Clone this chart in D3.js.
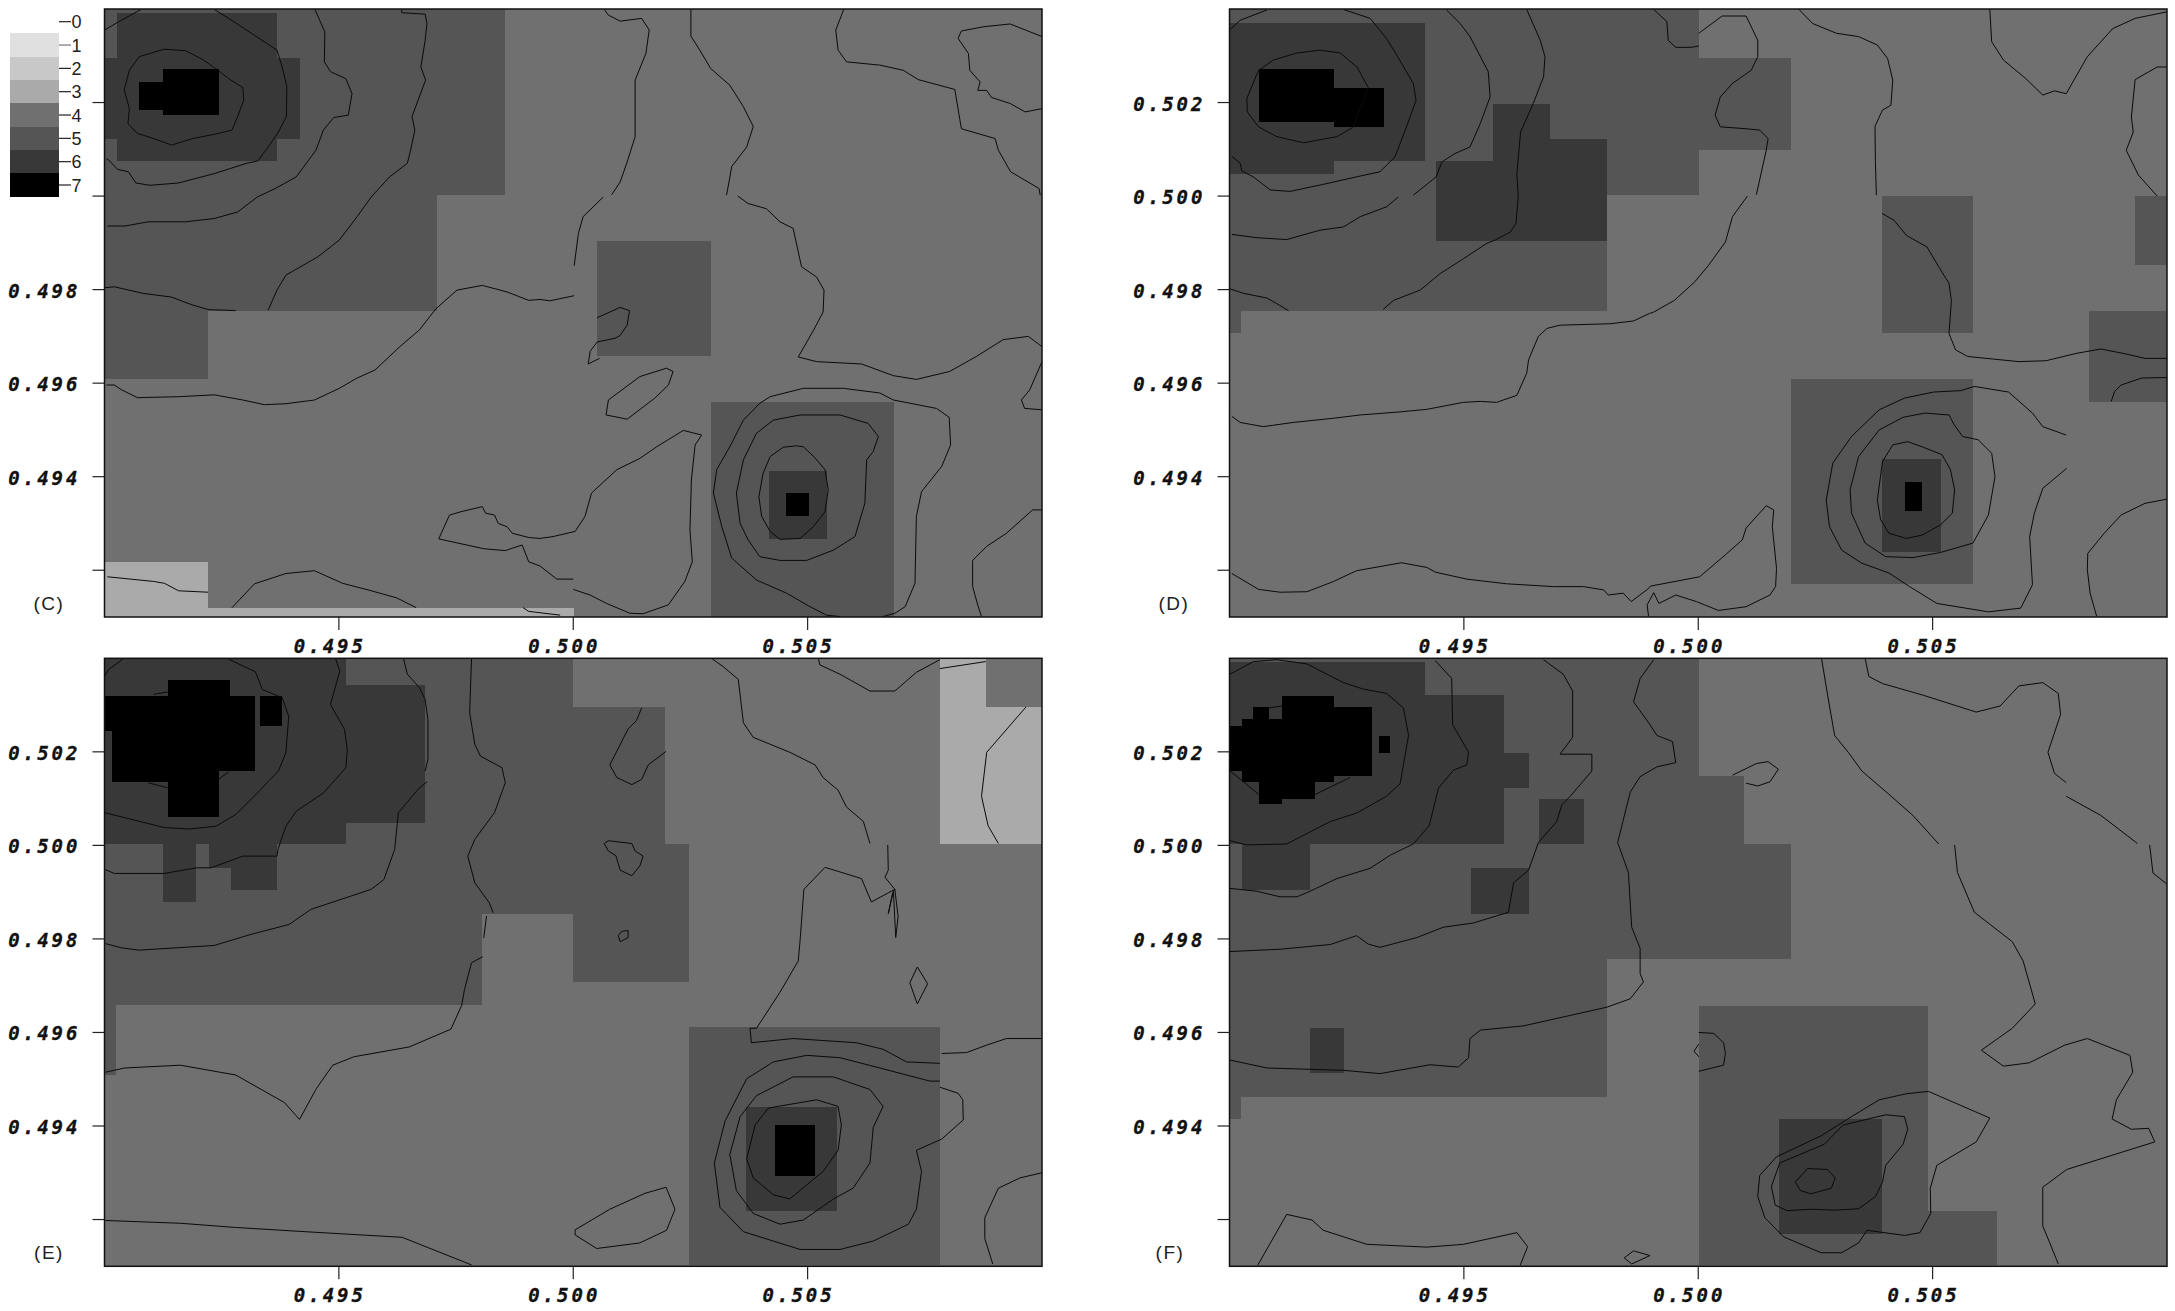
<!DOCTYPE html>
<html><head><meta charset="utf-8"><script src="https://cdn.jsdelivr.net/npm/d3@7"></script>
<style>html,body{margin:0;background:#fff}svg{display:block}</style></head><body><div id="c"></div>
<script>
// All spatial values are in units of 1e-5 of the plotted coordinate.
const xTickValues=[0.495,0.5,0.505];
const yTickValues=[0.502,0.5,0.498,0.496,0.494,0.492];
const legendLevels=[0,1,2,3,4,5,6,7];
const levelGray={1:"#e0e0e0",2:"#c8c8c8",3:"#aaaaaa",4:"#707070",5:"#555555",6:"#383838",7:"#000000"};
// cells: [x0,x1,y0,y1,level]
const cellsC=[[49000,51000,49100,50400,4],[49000,49855,50002,50400,5],[49000,49710,49755,50002,5],[49000,49221,49609,49755,5],[50051,50294,49657,49904,5],[50294,50685,49100,49559,5],
[49026,49367,50075,50392,6],[49000,49417,50122,50296,6],[50418,50541,49267,49413,6],[49124,49244,50173,50271,7],[49073,49124,50185,50244,7],[50454,50502,49316,49365,7],[49000,49221,49100,49217,3],[49221,50001,49100,49120,3]];
const cellsD=[[49000,51000,49100,50400,4],[49000,49805,49754,50400,5],[49805,50001,50002,50400,5],[50001,50197,50098,50296,5],[49000,49025,49707,49754,5],[50392,50587,49707,50000,5],[50932,51000,49852,50000,5],[50834,51000,49559,49754,5],[50197,50587,49170,49609,5],
[49000,49417,50075,50369,6],[49000,49222,50048,50369,6],[49563,49684,50075,50197,6],[49441,49805,49904,50075,6],[49684,49805,50075,50122,6],[50392,50517,49240,49437,6],[49062,49222,50159,50271,7],[49222,49330,50147,50232,7],[50442,50477,49327,49389,7]];
const cellsE=[[49000,51000,49100,50400,4],[49000,50000,49854,50400,5],[49000,49805,49658,49854,5],[50000,50196,50004,50296,5],[50000,50247,49708,50004,5],[49000,49025,49509,49660,5],[50247,50782,49102,49611,5],
[49000,49516,50002,50400,6],[49516,49684,50048,50342,6],[49124,49195,49879,50002,6],[49223,49368,49952,50002,6],[49270,49368,49904,49952,6],[50368,50563,49219,49440,6],
[49135,49268,50319,50353,7],[49000,49320,50244,50319,7],[49015,49320,50159,50244,7],[49015,49135,50135,50159,7],[49135,49244,50060,50159,7],[49331,49379,50256,50319,7],[50430,50516,49294,49402,7],[50782,50880,50004,50400,3],[50880,51000,50004,50296,3]];
const cellsF=[[49000,51000,49100,50400,4],[49000,49805,49462,50400,5],[49805,50001,49756,50400,5],[50001,50098,50003,50148,5],[50001,50197,49756,50003,5],[49000,49025,49415,49462,5],[50001,50490,49102,49657,5],[50490,50637,49102,49219,5],
[49000,49417,50003,50393,6],[49417,49586,50003,50321,6],[49586,49638,50123,50197,6],[49661,49757,50003,50100,6],[49515,49638,49854,49951,6],[49026,49171,49905,50003,6],[49172,49245,49513,49609,6],[50172,50392,49170,49415,6],
[49222,49303,50148,50296,7],[49112,49222,50136,50319,7],[49000,49112,50159,50255,7],[49026,49112,50136,50271,7],[49051,49085,50271,50296,7],[49062,49183,50100,50136,7],[49062,49112,50088,50100,7],[49319,49343,50197,50233,7]];
const contoursC=[
[[49127,50314],[49173,50311],[49211,50291],[49242,50269],[49265,50251],[49295,50232],[49297,50205],[49284,50170],[49272,50141],[49234,50132],[49188,50123],[49143,50109],[49105,50123],[49070,50134],[49050,50155],[49053,50187],[49042,50227],[49053,50269],[49074,50298],[49127,50314]],
[[49000,50355],[49036,50376],[49078,50399]],
[[49234,50399],[49265,50380],[49303,50355],[49368,50312],[49379,50276],[49389,50234],[49388,50170],[49371,50137],[49349,50105],[49327,50075],[49303,50070],[49234,50048],[49158,50028],[49097,50023],[49067,50028],[49051,50052],[49028,50057],[49009,50077],[49004,50080]],
[[49449,50399],[49470,50351],[49469,50287],[49482,50266],[49515,50251],[49528,50219],[49520,50173],[49489,50168],[49467,50141],[49451,50098],[49409,50041],[49364,50016],[49326,49998],[49284,49966],[49234,49952],[49173,49945],[49093,49945],[49044,49936],[49006,49936]],
[[49634,50399],[49634,50392],[49684,50389],[49688,50369],[49684,50333],[49675,50276],[49685,50248],[49669,50205],[49656,50170],[49662,50141],[49653,50098],[49646,50070],[49608,50041],[49569,49998],[49539,49956],[49501,49906],[49455,49870],[49387,49831],[49368,49799],[49349,49756]],
[[49000,49804],[49021,49806],[49082,49792],[49143,49784],[49188,49767],[49223,49757],[49257,49756],[49280,49755]],
[[49004,49596],[49021,49596],[49036,49586],[49070,49569],[49158,49571],[49234,49575],[49295,49564],[49341,49554],[49387,49556],[49448,49564],[49501,49589],[49539,49611],[49577,49628],[49630,49678],[49672,49714],[49707,49759],[49752,49799],[49806,49809],[49859,49795],[49905,49777],[49929,49779],[49950,49776],[50002,49787]],
[[50066,50399],[50075,50387],[50100,50374],[50146,50380],[50162,50355],[50155,50305],[50132,50248],[50132,50169],[50132,50127],[50114,50070],[50100,50030],[50082,50003]],
[[50064,49998],[50021,49956],[50011,49920],[50002,49851]],
[[50251,50399],[50251,50342],[50270,50312],[50293,50273],[50334,50237],[50363,50191],[50384,50149],[50370,50105],[50338,50063],[50333,50034],[50327,50002]],
[[50351,50000],[50373,49984],[50412,49973],[50441,49945],[50469,49931],[50487,49849],[50519,49827],[50535,49799],[50533,49752],[50513,49714],[50480,49656],[50519,49646],[50615,49641],[50683,49616],[50732,49608],[50803,49625],[50860,49657],[50917,49693],[50971,49700],[51000,49678]],
[[50577,50399],[50560,50355],[50565,50312],[50583,50287],[50654,50280],[50704,50269],[50736,50249],[50814,50228],[50828,50144],[50900,50123],[50907,50098],[50933,50052],[50994,50016],[50996,50002]],
[[51000,50341],[50932,50368],[50875,50362],[50828,50353],[50821,50337],[50843,50305],[50846,50269],[50868,50244],[50863,50226],[50882,50226],[50892,50211],[50932,50198],[50964,50180],[51000,50187]],
[[50051,49740],[50078,49752],[50100,49762],[50120,49755],[50115,49724],[50100,49702],[50089,49696],[50051,49688],[50036,49668],[50032,49641],[50056,49653]],
[[50199,49632],[50213,49625],[50203,49596],[50174,49568],[50115,49523],[50070,49532],[50075,49564],[50142,49614],[50199,49632]],
[[49713,49267],[49736,49318],[49760,49325],[49806,49336],[49813,49322],[49832,49318],[49840,49300],[49859,49293],[49870,49279],[49905,49270],[49929,49268],[49957,49272],[50004,49283],[50025,49315],[50039,49365],[50093,49415],[50142,49439],[50178,49464],[50235,49499],[50274,49489],[50260,49468],[50252,49393],[50249,49286],[50254,49218],[50238,49176],[50203,49126],[50149,49107],[50121,49108],[50071,49129],[50036,49147],[50000,49159]],
[[50000,49181],[49965,49181],[49929,49209],[49905,49218],[49891,49254],[49855,49242],[49809,49246],[49713,49267]],
[[49006,49186],[49105,49176],[49128,49172],[49158,49156],[49221,49153]],
[[49272,49120],[49320,49171],[49387,49193],[49448,49199],[49508,49172],[49562,49158],[49623,49141],[49665,49120]],
[[49893,49120],[49905,49112],[49972,49104]],
[[51000,49646],[50974,49586],[50956,49564],[50963,49546],[51000,49543]],
[[50569,49101],[50540,49104],[50498,49126],[50455,49151],[50391,49179],[50338,49226],[50317,49293],[50299,49365],[50306,49415],[50334,49464],[50363,49521],[50398,49557],[50420,49571],[50491,49589],[50576,49589],[50654,49579],[50683,49564],[50775,49546],[50802,49527],[50805,49468],[50786,49422],[50743,49368],[50732,49315],[50729,49172],[50708,49122],[50686,49108],[50661,49101]],
[[50484,49532],[50569,49532],[50629,49514],[50651,49486],[50640,49454],[50626,49436],[50622,49343],[50601,49272],[50555,49243],[50498,49221],[50441,49221],[50398,49229],[50373,49265],[50356,49300],[50348,49365],[50363,49436],[50391,49493],[50427,49521],[50484,49532]],
[[50476,49466],[50491,49464],[50516,49440],[50537,49415],[50544,49372],[50537,49325],[50512,49293],[50484,49268],[50441,49266],[50420,49283],[50402,49315],[50396,49357],[50405,49407],[50420,49443],[50448,49463],[50476,49466]],
[[51000,49329],[50980,49329],[50924,49279],[50882,49251],[50852,49221],[50852,49165],[50864,49122],[50871,49101]]
];
const contoursD=[
[[49193,50312],[49236,50306],[49272,50276],[49296,50232],[49263,50147],[49229,50127],[49158,50114],[49101,50127],[49062,50148],[49038,50180],[49037,50209],[49062,50269],[49094,50291],[49144,50306],[49193,50312]],
[[49000,50355],[49023,50376],[49080,50398]],
[[49243,50399],[49300,50380],[49335,50337],[49357,50301],[49392,50241],[49398,50205],[49375,50141],[49353,50084],[49321,50052],[49257,50038],[49200,50025],[49129,50010],[49087,50013],[49051,50041],[49026,50054],[49023,50070],[49005,50085]],
[[49463,50398],[49492,50369],[49513,50341],[49552,50266],[49556,50212],[49535,50155],[49513,50105],[49481,50091],[49453,50073],[49441,50041],[49392,50002]],
[[49360,49998],[49335,49977],[49279,49956],[49243,49934],[49193,49927],[49122,49907],[49058,49911],[49005,49918]],
[[49634,50399],[49663,50333],[49673,50298],[49670,50255],[49648,50198],[49621,50137],[49613,50048],[49616,49998],[49611,49941],[49599,49923],[49567,49906],[49549,49899],[49499,49866],[49449,49834],[49407,49799],[49350,49777],[49328,49758]],
[[49000,49802],[49030,49792],[49080,49782],[49101,49770],[49126,49755]],
[[49005,49529],[49023,49516],[49072,49507],[49136,49516],[49222,49525],[49279,49532],[49357,49538],[49421,49544],[49499,49559],[49535,49561],[49570,49559],[49613,49574],[49634,49621],[49638,49650],[49659,49700],[49677,49717],[49705,49724],[49812,49727],[49862,49733],[49896,49749],[49905,49752],[49949,49777],[49992,49816],[50022,49852],[50058,49902],[50073,49956],[50105,50000]],
[[50124,50003],[50145,50098],[50149,50123],[50131,50141],[50102,50144],[50047,50148],[50036,50173],[50047,50212],[50073,50241],[50113,50269],[50127,50298],[50127,50333],[50102,50385],[50051,50385],[50001,50348]],
[[49905,50399],[49933,50373],[49936,50333],[49952,50318],[49985,50318],[50001,50321]],
[[50215,50399],[50244,50369],[50295,50348],[50342,50341],[50382,50323],[50404,50294],[50415,50248],[50411,50194],[50393,50184],[50377,50149],[50378,50070],[50380,50002]],
[[50392,49963],[50418,49948],[50444,49916],[50488,49891],[50513,49849],[50535,49813],[50540,49777],[50535,49706],[50549,49671],[50575,49657],[50684,49646],[50742,49648],[50808,49664],[50859,49673],[50910,49663],[50953,49653],[51000,49653]],
[[50622,50399],[50626,50330],[50651,50291],[50699,50251],[50735,50216],[50760,50225],[50785,50219],[50830,50298],[50884,50358],[50932,50380],[51000,50394]],
[[51000,50276],[50979,50276],[50932,50249],[50924,50169],[50928,50137],[50913,50098],[50939,50045],[50979,50000]],
[[51000,49612],[50946,49611],[50902,49596],[50888,49582],[50881,49561]],
[[50785,49489],[50735,49507],[50713,49536],[50662,49581],[50589,49593],[50560,49584],[50502,49581],[50440,49568],[50386,49543],[50327,49486],[50287,49429],[50273,49350],[50280,49293],[50306,49243],[50349,49215],[50407,49194],[50451,49165],[50509,49129],[50619,49111],[50688,49119],[50713,49169],[50707,49272],[50717,49322],[50735,49375],[50786,49418]],
[[50535,49532],[50484,49536],[50437,49527],[50386,49500],[50342,49443],[50324,49372],[50327,49322],[50356,49258],[50400,49229],[50458,49227],[50517,49238],[50586,49258],[50619,49318],[50633,49400],[50626,49450],[50597,49479],[50564,49486],[50546,49511],[50535,49532]],
[[50447,49475],[50480,49463],[50520,49447],[50538,49415],[50547,49372],[50542,49322],[50517,49297],[50477,49275],[50444,49268],[50407,49279],[50389,49308],[50382,49350],[50393,49432],[50415,49468],[50447,49475]],
[[51000,49352],[50953,49343],[50902,49318],[50866,49279],[50831,49236],[50830,49201],[50836,49151],[50850,49101]],
[[49005,49193],[49062,49159],[49108,49153],[49165,49154],[49222,49176],[49271,49199],[49367,49216],[49421,49206],[49439,49196],[49506,49181],[49591,49171],[49691,49165],[49755,49165],[49798,49158],[49808,49147],[49840,49151],[49857,49133],[49894,49161],[49898,49166],[50003,49186],[50058,49233],[50094,49265],[50102,49290],[50145,49338],[50161,49329],[50158,49293],[50167,49204],[50165,49165],[50153,49147],[50102,49122],[50043,49114],[49996,49133],[49952,49147],[49916,49129],[49905,49152],[49891,49126],[49894,49101]]
];
const contoursE=[
[[49000,50362],[49009,50376],[49040,50399]],
[[49265,50398],[49322,50371],[49337,50333],[49379,50316],[49393,50276],[49387,50198],[49371,50159],[49326,50112],[49280,50066],[49238,50041],[49181,50035],[49128,50038],[49044,50059],[49000,50070]],
[[49105,50323],[49135,50328]],[[49093,50134],[49135,50123]],[[49244,50142],[49265,50157]],
[[49493,50399],[49502,50373],[49482,50301],[49512,50248],[49518,50205],[49515,50166],[49467,50112],[49409,50073],[49387,50041],[49370,49991],[49368,49977],[49295,49977],[49227,49952],[49196,49952],[49128,49940],[49021,49940],[49002,49948]],
[[49638,50399],[49646,50366],[49672,50337],[49684,50312],[49690,50269],[49690,50184],[49684,50159]],
[[49688,50136],[49669,50120],[49627,50070],[49619,49991],[49596,49927],[49569,49906],[49524,49891],[49440,49863],[49394,49831],[49310,49809],[49234,49786],[49074,49776],[49036,49781],[49002,49790]],
[[49783,50399],[49779,50284],[49790,50216],[49802,50191],[49848,50166],[49855,50134],[49832,50070],[49790,50013],[49775,49977],[49790,49920],[49821,49877],[49829,49856]],
[[49815,49849],[49809,49802]],
[[49807,49762],[49783,49749],[49768,49692],[49762,49658],[49739,49607],[49650,49569],[49532,49548],[49487,49530],[49452,49480],[49416,49414],[49384,49450],[49280,49509],[49162,49530],[49043,49524],[49002,49515]],
[[49002,49198],[49162,49192],[49280,49183],[49428,49174],[49635,49162],[49783,49103]],
[[50295,50400],[50320,50382],[50352,50355],[50363,50262],[50384,50231],[50462,50199],[50516,50172],[50533,50145],[50565,50118],[50583,50082],[50619,50051],[50633,50004]],
[[50671,50001],[50672,49947],[50665,49932],[50686,49906],[50693,49848],[50688,49803],[50683,49902],[50672,49854],[50681,49897],[50686,49906],[50636,49879],[50615,49929],[50537,49953],[50492,49906],[50484,49798],[50480,49753],[50441,49686],[50391,49609],[50377,49609],[50380,49578],[50469,49587],[50604,49578],[50661,49564],[50711,49537],[50782,49534]],
[[50523,50400],[50526,50386],[50569,50366],[50633,50330],[50686,50330],[50732,50370],[50782,50397]],
[[50782,50378],[50880,50393]],
[[50966,50296],[50882,50199],[50871,50105],[50885,50042],[50907,50004]],
[[50786,49555],[50839,49557],[50882,49573],[50924,49587],[51000,49587]],
[[50734,49740],[50756,49704],[50734,49661],[50718,49706],[50734,49740]],
[[50066,50004],[50075,50010],[50125,50004],[50132,49988],[50149,49977],[50142,49956],[50125,49935],[50100,49947],[50091,49978],[50075,49988],[50066,50004]],
[[50096,49807],[50103,49816],[50117,49818],[50117,49803],[50100,49794],[50096,49807]],
[[50146,50294],[50135,50267],[50117,50249],[50078,50172],[50093,50145],[50125,50130],[50146,50141],[50160,50172],[50198,50201]],
[[50004,49178],[50078,49222],[50153,49256],[50198,49269],[50217,49222],[50199,49177],[50142,49150],[50050,49138],[50004,49167],[50004,49178]],
[[51000,49300],[50953,49289],[50907,49267],[50878,49204],[50878,49159],[50895,49105]],
[[50782,49483],[50821,49470],[50831,49456],[50832,49413],[50786,49372],[50732,49348],[50743,49303],[50732,49222],[50715,49190],[50640,49154],[50569,49136],[50484,49136],[50363,49174],[50313,49226],[50301,49321],[50324,49411],[50370,49501],[50427,49537],[50498,49551],[50569,49546],[50654,49524],[50761,49496],[50782,49496]],
[[50661,49442],[50640,49397],[50633,49321],[50597,49267],[50555,49244],[50491,49199],[50441,49190],[50384,49213],[50348,49262],[50334,49339],[50356,49420],[50391,49465],[50469,49505],[50555,49505],[50633,49478],[50661,49442]],
[[50437,49442],[50519,49456],[50565,49442],[50572,49402],[50565,49348],[50533,49303],[50462,49244],[50427,49253],[50384,49289],[50370,49330],[50388,49402],[50416,49438],[50437,49442]]
];
const contoursF=[
[[49001,50366],[49051,50393],[49101,50397],[49165,50388],[49243,50348],[49286,50334],[49335,50325],[49371,50294],[49382,50235],[49364,50132],[49335,50105],[49271,50069],[49215,50051],[49122,50003],[49037,50001],[49001,50010]],
[[49085,50294],[49112,50298]],[[49001,50159],[49030,50136],[49062,50109]],[[49183,50109],[49257,50145]],
[[49439,50395],[49474,50357],[49476,50258],[49510,50199],[49506,50172],[49478,50161],[49446,50123],[49426,50042],[49392,50003],[49343,49979],[49300,49951],[49229,49929],[49172,49902],[49144,49890],[49108,49890],[49058,49902],[49001,49908]],
[[49670,50397],[49712,50366],[49732,50330],[49732,50231],[49705,50195],[49773,50195],[49773,50159],[49727,50105],[49709,50087],[49698,50051],[49659,50006],[49638,49947],[49606,49920],[49595,49857],[49520,49834],[49456,49825],[49400,49803],[49321,49782],[49296,49789],[49271,49807],[49215,49788],[49108,49778],[49001,49773]],
[[49905,50397],[49876,50357],[49862,50307],[49897,50258],[49912,50235],[49945,50222],[49952,50177],[49912,50168],[49876,50147],[49855,50114],[49828,50006],[49851,49942],[49858,49825],[49876,49780],[49876,49726],[49883,49708],[49855,49672],[49805,49654],[49627,49614],[49535,49605],[49513,49587],[49510,49546],[49488,49526],[49428,49531],[49321,49512],[49243,49519],[49080,49524],[49001,49541]],
[[49060,49102],[49122,49211],[49176,49199],[49200,49177],[49293,49147],[49421,49141],[49499,49147],[49613,49172],[49636,49142],[49620,49102]],
[[49842,49118],[49862,49133],[49897,49123],[49858,49105],[49842,49118]],
[[50001,49600],[50033,49598],[50054,49578],[50058,49555],[50054,49530],[50001,49517]],
[[50001,49575],[49991,49560],[50001,49548]],
[[50073,50150],[50124,50175],[50149,50179],[50171,50163],[50153,50136],[50127,50127],[50102,50133]],
[[50263,50400],[50276,50321],[50291,50235],[50320,50199],[50349,50159],[50407,50109],[50458,50064],[50513,50003]],
[[50356,50400],[50364,50361],[50393,50346],[50480,50321],[50593,50285],[50644,50298],[50684,50341],[50735,50348],[50768,50325],[50773,50280],[50746,50199],[50760,50154],[50785,50134]],
[[50785,50105],[50859,50064],[50937,50004]],
[[50963,50001],[50970,49941],[51000,49917]],
[[50547,50001],[50553,49942],[50589,49857],[50670,49794],[50693,49753],[50719,49661],[50670,49609],[50604,49562],[50651,49528],[50706,49535],[50782,49573],[50830,49587],[50921,49551],[50927,49515],[50892,49456],[50883,49415],[50924,49393],[50961,49395],[50974,49366],[50786,49307],[50735,49269],[50735,49186],[50750,49150],[50768,49105]],
[[50491,49474],[50622,49417],[50593,49366],[50509,49316],[50495,49267],[50496,49213],[50473,49172],[50440,49166],[50360,49177],[50342,49150],[50306,49129],[50262,49129],[50182,49163],[50142,49204],[50127,49249],[50131,49294],[50167,49334],[50262,49379],[50327,49420],[50386,49456],[50444,49469],[50491,49474]],
[[50440,49420],[50447,49393],[50437,49361],[50400,49316],[50393,49280],[50378,49249],[50342,49223],[50291,49220],[50240,49222],[50189,49219],[50164,49231],[50156,49271],[50174,49321],[50269,49361],[50309,49402],[50346,49411],[50400,49424],[50440,49420]],
[[50233,49309],[50276,49307],[50292,49289],[50284,49267],[50240,49255],[50218,49262],[50207,49280],[50233,49309]]
];
const unit=1e-5;
const layout=[
 {label:"(C)",cells:cellsC,contours:contoursC,left:104.5,top:9,labelX:49,hide:[0.502,0.5,0.492]},
 {label:"(D)",cells:cellsD,contours:contoursD,left:1229.5,top:9,labelX:1174,hide:[0.492]},
 {label:"(E)",cells:cellsE,contours:contoursE,left:104.5,top:658.3,labelX:49,hide:[0.492]},
 {label:"(F)",cells:cellsF,contours:contoursF,left:1229.5,top:658.3,labelX:1170,hide:[0.492]}];
const W=937.5,H=608;
const svg=d3.select("#c").append("svg").attr("width",2175).attr("height",1311);
const x=d3.scaleLinear().domain([0.49,0.51]).range([0,W]);
const y=d3.scaleLinear().domain([0.491,0.504]).range([H,0]);
const tickFont="'DejaVu Sans Mono'";
const line=d3.line().x(d=>x(d[0]*unit)).y(d=>y(d[1]*unit));
function tickText(sel){
 sel.attr("font-family",tickFont).attr("font-weight","bold").attr("font-style","italic")
  .attr("font-size",19).attr("letter-spacing",3).attr("fill","#111")
  .attr("stroke","#111").attr("stroke-width",0.3).text(d=>d3.format(".3f")(d));
}
layout.forEach((p,i)=>{
 const g=svg.append("g").attr("transform",`translate(${p.left},${p.top})`);
 g.append("clipPath").attr("id","cp"+i).append("rect").attr("width",W).attr("height",H);
 const body=g.append("g").attr("clip-path",`url(#cp${i})`);
 body.selectAll("rect.cell").data(p.cells).join("rect").attr("class","cell")
  .attr("shape-rendering","crispEdges")
  .attr("x",d=>x(d[0]*unit)).attr("width",d=>x(d[1]*unit)-x(d[0]*unit))
  .attr("y",d=>y(d[3]*unit)).attr("height",d=>y(d[2]*unit)-y(d[3]*unit))
  .attr("fill",d=>levelGray[d[4]]);
 body.selectAll("path").data(p.contours).join("path").attr("d",line)
  .attr("fill","none").attr("stroke","#0a0a0a").attr("stroke-width",1);
 g.append("rect").attr("width",W).attr("height",H).attr("fill","none").attr("stroke","#111").attr("stroke-width",1.5);
 g.selectAll("line.xt").data(xTickValues).join("line").attr("class","xt")
  .attr("x1",d=>x(d)).attr("x2",d=>x(d)).attr("y1",H).attr("y2",H+13).attr("stroke","#222").attr("stroke-width",1.2);
 g.selectAll("text.xl").data(xTickValues).join("text").attr("class","xl")
  .attr("x",d=>x(d)-9).attr("y",H+36).attr("text-anchor","middle").call(tickText);
 g.selectAll("line.yt").data(yTickValues).join("line").attr("class","yt")
  .attr("x1",-12).attr("x2",0).attr("y1",d=>y(d)).attr("y2",d=>y(d)).attr("stroke","#222").attr("stroke-width",1.2);
 g.selectAll("text.yl").data(yTickValues.filter(v=>!p.hide.includes(v))).join("text").attr("class","yl")
  .attr("x",-24).attr("y",d=>y(d)+8).attr("text-anchor","end").call(tickText);
 svg.append("text").attr("x",p.labelX).attr("y",p.top+601).attr("text-anchor","middle")
  .attr("font-family","'Liberation Sans'").attr("font-size",19).attr("letter-spacing",1.5).attr("fill","#222").text(p.label);
});
// legend
const ly=d3.scaleLinear().domain([0,7]).range([21.7,185]);
const leg=svg.append("g");
leg.selectAll("rect").data(legendLevels.slice(1)).join("rect").attr("shape-rendering","crispEdges")
 .attr("x",9.6).attr("width",49.4).attr("y",d=>ly(d-0.5)).attr("height",d=>ly(d+0.5)-ly(d-0.5)+0.5).attr("fill",d=>levelGray[d]);
leg.selectAll("line").data(legendLevels).join("line").attr("x1",59).attr("x2",71).attr("y1",d=>ly(d)).attr("y2",d=>ly(d)).attr("stroke",d=>d===1?"#777":"#222").attr("stroke-width",1.2);
leg.selectAll("text").data(legendLevels).join("text").attr("x",71.5).attr("y",d=>ly(d)+6.5).attr("font-family","'Liberation Sans'").attr("font-size",18).attr("fill","#222").text(d=>d);
</script></body></html>
